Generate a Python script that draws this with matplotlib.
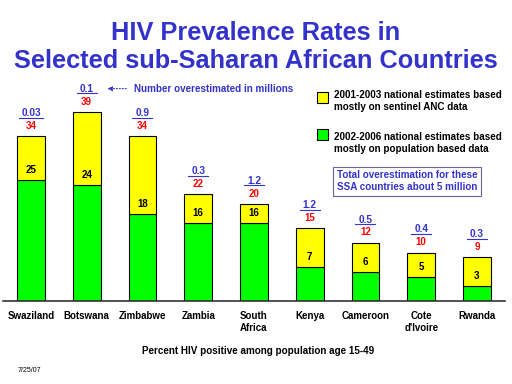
import matplotlib.pyplot as plt
from matplotlib.transforms import offset_copy
from matplotlib.patches import Rectangle

countries = ['Swaziland', 'Botswana', 'Zimbabwe', 'Zambia', 'South\nAfrica',
             'Kenya', 'Cameroon', 'Cote\nd\'Ivoire', 'Rwanda']
old_est = [34, 39, 34, 22, 20, 15, 12, 10, 9]
new_est = [25, 24, 18, 16, 16, 7, 6, 5, 3]
overest = ['0.03', '0.1', '0.9', '0.3', '1.2', '1.2', '0.5', '0.4', '0.3']

BLUE = '#3333CC'
plt.rcParams['font.family'] = ['Liberation Sans', 'DejaVu Sans']
plt.rcParams['font.weight'] = 'bold'

fig = plt.figure(figsize=(5.12, 3.84), dpi=100)
ax = fig.add_axes([0.006, 1 - 301 / 384, 0.98, (301 - 80) / 384])

x = list(range(len(countries)))
tops = [o - n for o, n in zip(old_est, new_est)]
ax.bar(x, new_est, width=0.5, color='#00FF00', edgecolor='black', linewidth=0.8)
ax.bar(x, tops, bottom=new_est, width=0.5, color='#FFFF00', edgecolor='black', linewidth=0.8)

ax.set_xlim(-0.5, 8.5)
ax.set_ylim(0, 45.6)
for s in ['top', 'left', 'right']:
    ax.spines[s].set_visible(False)
ax.spines['bottom'].set_linewidth(1.2)
ax.spines['bottom'].set_color('#333333')
ax.set_yticks([])
ax.set_xticks(x)
ax.set_xticklabels(countries, fontsize=7, fontweight='bold', linespacing=1.25)
ax.tick_params(axis='x', length=0, pad=7.5)


def above(dy):
    return offset_copy(ax.transData, fig, 0, dy, units='points')


for i in x:
    ax.text(i, new_est[i], str(new_est[i]), transform=above(7.2),
            ha='center', va='center', fontsize=7, fontweight='bold', color='black')
    ax.text(i, old_est[i], str(old_est[i]), transform=above(7.5),
            ha='center', va='center', fontsize=7, fontweight='bold', color='red')
    ax.text(i, old_est[i], overest[i], transform=above(16.8),
            ha='center', va='center', fontsize=7.3, fontweight='bold', color=BLUE)
    half = 0.06 + 0.04 * len(overest[i])
    ax.plot([i - half, i + half], [old_est[i], old_est[i]], transform=above(13.4),
            color=BLUE, linewidth=0.8, clip_on=False)

# arrow pointing at Botswana's label
ax.annotate('', xy=(1.32, old_est[1]), xytext=(1.76, old_est[1]),
            xycoords=above(16.8), textcoords=above(16.8),
            arrowprops=dict(arrowstyle='-|>', color=BLUE, linestyle=':', lw=0.8,
                            mutation_scale=7))
ax.text(1.84, old_est[1], 'Number overestimated in millions', transform=above(16.8),
        ha='left', va='center', fontsize=7.1, fontweight='bold', color=BLUE)

# legend
fig.patches.append(Rectangle((317 / 512, 1 - 103 / 384), 11 / 512, 11 / 384,
                             transform=fig.transFigure, facecolor='#FFFF00', edgecolor='black', lw=0.8))
fig.patches.append(Rectangle((317 / 512, 1 - 140 / 384), 11 / 512, 11 / 384,
                             transform=fig.transFigure, facecolor='#00FF00', edgecolor='black', lw=0.8))
fig.text(334 / 512, 1 - 100.5 / 384, '2001-2003 national estimates based\nmostly on sentinel ANC data',
         ha='left', va='center', fontsize=7.1, fontweight='bold', linespacing=1.25)
fig.text(334 / 512, 1 - 142.5 / 384, '2002-2006 national estimates based\nmostly on population based data',
         ha='left', va='center', fontsize=7.1, fontweight='bold', linespacing=1.25)
fig.text(407 / 512, 1 - 181.5 / 384, 'Total overestimation for these\nSSA countries about 5 million',
         ha='center', va='center', fontsize=7.1, fontweight='bold', color=BLUE, linespacing=1.25,
         bbox=dict(boxstyle='square,pad=0.35', facecolor='white', edgecolor='#666699', lw=0.8))

fig.text(0.5, 1 - 47 / 384, 'HIV Prevalence Rates in\nSelected sub-Saharan African Countries',
         ha='center', va='center', fontsize=18.3, fontweight='bold', color=BLUE, linespacing=1.18)
fig.text(258 / 512, 1 - 351 / 384, 'Percent HIV positive among population age 15-49',
         ha='center', va='center', fontsize=7.1, fontweight='bold')
fig.text(18 / 512, 1 - 371 / 384, '7/25/07', ha='left', va='center', fontsize=5, fontweight='normal')

fig.savefig('out.png', dpi=100, facecolor='white')
